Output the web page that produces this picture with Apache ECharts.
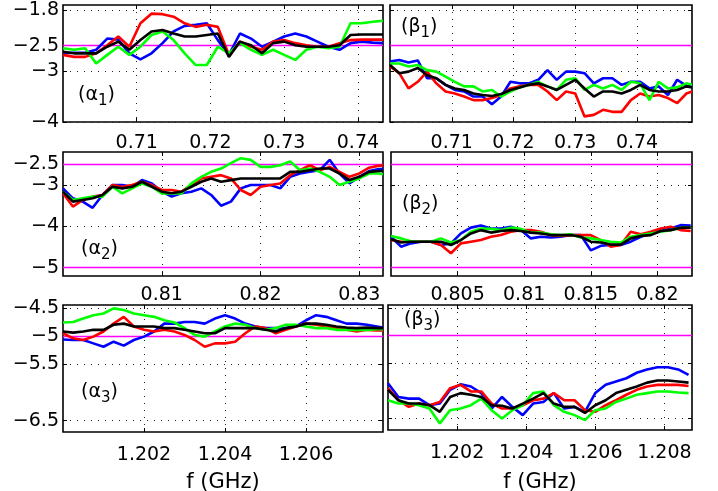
<!DOCTYPE html>
<html><head><meta charset="utf-8">
<script src="https://cdn.jsdelivr.net/npm/echarts@6/dist/echarts.min.js"></script>
<style>html,body{margin:0;padding:0;background:#fff}#c{width:718px;height:491px}</style>
</head><body><div id="c"></div>
<script>
// ---------- data ----------
const xA1 = [0.7000,0.7015,0.7030,0.7045,0.7060,0.7075,0.7090,0.7105,0.7120,0.7135,0.7150,0.7165,0.7180,0.7195,0.7210,0.7225,0.7240,0.7255,0.7270,0.7285,0.7300,0.7315,0.7330,0.7345,0.7360,0.7375,0.7390,0.7405,0.7420,0.7434];
const blueA1  = [-2.65,-2.64,-2.64,-2.58,-2.36,-2.38,-2.65,-2.77,-2.65,-2.45,-2.22,-2.11,-2.09,-2.06,-2.39,-2.68,-2.26,-2.36,-2.52,-2.42,-2.32,-2.26,-2.32,-2.42,-2.52,-2.58,-2.45,-2.42,-2.44,-2.45];
const redA1   = [-2.68,-2.72,-2.72,-2.65,-2.49,-2.32,-2.52,-2.06,-1.87,-1.88,-1.93,-2.06,-2.13,-2.09,-2.13,-2.68,-2.42,-2.52,-2.58,-2.42,-2.39,-2.45,-2.49,-2.52,-2.52,-2.45,-2.39,-2.38,-2.38,-2.38];
const greenA1 = [-2.55,-2.58,-2.55,-2.85,-2.68,-2.52,-2.68,-2.52,-2.29,-2.22,-2.39,-2.65,-2.88,-2.88,-2.52,-2.65,-2.45,-2.58,-2.68,-2.58,-2.68,-2.78,-2.58,-2.52,-2.55,-2.52,-2.06,-2.06,-2.03,-2.01];
const blackA1 = [-2.62,-2.65,-2.65,-2.65,-2.52,-2.42,-2.58,-2.39,-2.22,-2.19,-2.26,-2.32,-2.32,-2.29,-2.26,-2.72,-2.42,-2.49,-2.65,-2.45,-2.42,-2.49,-2.52,-2.52,-2.52,-2.49,-2.29,-2.28,-2.28,-2.28];

const xB1 = [0.7000,0.7015,0.7030,0.7045,0.7060,0.7075,0.7090,0.7105,0.7120,0.7135,0.7150,0.7165,0.7180,0.7195,0.7210,0.7225,0.7240,0.7255,0.7270,0.7285,0.7300,0.7315,0.7330,0.7345,0.7360,0.7375,0.7390,0.7405,0.7420,0.7435,0.7450,0.7465,0.7480,0.7489];
const blueB1  = [-2.81,-2.78,-2.83,-2.79,-3.14,-3.14,-3.27,-3.37,-3.40,-3.50,-3.50,-3.65,-3.50,-3.21,-3.24,-3.24,-3.17,-2.98,-3.17,-3.01,-3.01,-3.04,-3.24,-3.14,-3.14,-3.27,-3.21,-3.21,-3.34,-3.30,-3.47,-3.17,-3.29,-3.30];
const redB1   = [-2.91,-3.04,-3.34,-3.21,-3.01,-3.24,-3.40,-3.44,-3.50,-3.57,-3.57,-3.53,-3.47,-3.34,-3.30,-3.27,-3.27,-3.40,-3.57,-3.40,-3.44,-3.89,-3.86,-3.76,-3.80,-3.80,-3.57,-3.44,-3.50,-3.47,-3.53,-3.63,-3.44,-3.40];
const greenB1 = [-2.85,-2.85,-2.91,-2.88,-2.98,-3.01,-3.11,-3.21,-3.30,-3.30,-3.40,-3.37,-3.50,-3.40,-3.32,-3.27,-3.21,-3.30,-3.37,-3.17,-3.14,-3.37,-3.27,-3.34,-3.27,-3.37,-3.21,-3.24,-3.57,-3.21,-3.34,-3.32,-3.24,-3.27];
const blackB1 = [-2.88,-3.04,-3.01,-2.94,-3.08,-3.14,-3.27,-3.34,-3.37,-3.44,-3.47,-3.49,-3.45,-3.37,-3.32,-3.27,-3.24,-3.30,-3.37,-3.27,-3.17,-3.34,-3.50,-3.40,-3.40,-3.44,-3.37,-3.27,-3.37,-3.40,-3.40,-3.37,-3.30,-3.32];

const xA2 = [0.800,0.801,0.802,0.803,0.804,0.805,0.806,0.807,0.808,0.809,0.810,0.811,0.812,0.813,0.814,0.815,0.816,0.817,0.818,0.819,0.820,0.821,0.822,0.823,0.824,0.825,0.826,0.827,0.828,0.829,0.830,0.831,0.832,0.8324];
const blueA2  = [-3.08,-3.32,-3.40,-3.55,-3.24,-3.00,-3.00,-3.04,-2.88,-2.96,-3.16,-3.28,-3.20,-3.16,-3.08,-3.24,-3.50,-3.40,-3.08,-3.00,-3.00,-3.00,-3.08,-2.80,-2.72,-2.68,-2.64,-2.39,-2.72,-2.96,-2.80,-2.66,-2.61,-2.61];
const redA2   = [-3.20,-3.52,-3.36,-3.28,-3.24,-3.00,-3.04,-3.00,-2.92,-3.00,-3.12,-3.12,-3.16,-3.00,-2.84,-2.80,-2.76,-2.84,-3.12,-3.24,-3.04,-3.00,-2.96,-2.76,-2.64,-2.52,-2.64,-2.56,-2.68,-2.80,-2.72,-2.58,-2.53,-2.53];
const greenA2 = [-3.16,-3.36,-3.32,-3.28,-3.28,-3.04,-3.20,-3.08,-2.96,-3.04,-3.20,-3.20,-3.20,-2.96,-2.80,-2.68,-2.60,-2.47,-2.35,-2.39,-2.56,-2.56,-2.52,-2.43,-2.64,-2.60,-2.68,-2.80,-3.00,-2.92,-2.84,-2.72,-2.72,-2.74];
const blackA2 = [-3.16,-3.40,-3.36,-3.32,-3.24,-3.04,-3.08,-3.04,-2.92,-3.04,-3.16,-3.20,-3.16,-3.04,-2.92,-2.84,-2.92,-2.88,-2.84,-2.84,-2.84,-2.84,-2.84,-2.68,-2.68,-2.64,-2.60,-2.60,-2.72,-2.88,-2.80,-2.68,-2.66,-2.66];

const xB2 = [0.80000,0.80075,0.80150,0.80225,0.80300,0.80375,0.80450,0.80525,0.80600,0.80675,0.80750,0.80825,0.80900,0.80975,0.81050,0.81125,0.81200,0.81275,0.81350,0.81425,0.81500,0.81575,0.81650,0.81725,0.81800,0.81875,0.81950,0.82025,0.82100,0.82175,0.82250];
const blueB2  = [-4.25,-4.49,-4.41,-4.37,-4.37,-4.45,-4.41,-4.17,-4.03,-3.98,-4.05,-4.05,-4.01,-4.09,-4.29,-4.25,-4.27,-4.25,-4.21,-4.21,-4.58,-4.47,-4.45,-4.45,-4.37,-4.25,-4.17,-4.11,-4.05,-3.97,-3.98];
const redB2   = [-4.33,-4.37,-4.37,-4.37,-4.37,-4.45,-4.65,-4.41,-4.37,-4.33,-4.25,-4.21,-4.13,-4.09,-4.09,-4.13,-4.21,-4.23,-4.21,-4.21,-4.21,-4.33,-4.49,-4.45,-4.13,-4.19,-4.13,-4.05,-4.01,-4.09,-4.11];
const greenB2 = [-4.23,-4.29,-4.36,-4.37,-4.37,-4.29,-4.39,-4.33,-4.13,-4.05,-4.06,-4.09,-4.03,-4.06,-4.15,-4.15,-4.19,-4.21,-4.19,-4.27,-4.29,-4.33,-4.37,-4.39,-4.25,-4.21,-4.17,-4.13,-4.09,-4.03,-4.03];
const blackB2 = [-4.31,-4.39,-4.37,-4.37,-4.37,-4.37,-4.45,-4.33,-4.17,-4.09,-4.15,-4.11,-4.09,-4.11,-4.15,-4.17,-4.21,-4.21,-4.21,-4.25,-4.37,-4.39,-4.44,-4.44,-4.29,-4.23,-4.21,-4.11,-4.09,-4.03,-4.03];

const xA3 = [1.20000,1.20025,1.20050,1.20075,1.20100,1.20125,1.20150,1.20175,1.20200,1.20225,1.20250,1.20275,1.20300,1.20325,1.20350,1.20375,1.20400,1.20425,1.20450,1.20475,1.20500,1.20525,1.20550,1.20575,1.20600,1.20625,1.20650,1.20675,1.20700,1.20725,1.20750,1.20775,1.20790];
const blueA3  = [-5.06,-5.07,-5.07,-5.13,-5.19,-5.10,-5.17,-5.07,-5.01,-4.92,-4.78,-4.78,-4.75,-4.75,-4.78,-4.69,-4.63,-4.69,-4.78,-4.83,-4.86,-4.86,-4.86,-4.83,-4.72,-4.63,-4.66,-4.72,-4.78,-4.78,-4.80,-4.83,-4.85];
const redA3   = [-4.95,-5.04,-5.07,-5.01,-4.92,-4.78,-4.66,-4.83,-4.89,-4.92,-4.89,-4.92,-4.98,-5.07,-5.19,-5.13,-5.13,-5.10,-4.95,-4.83,-4.86,-4.95,-4.89,-4.83,-4.78,-4.80,-4.83,-4.86,-4.89,-4.92,-4.89,-4.90,-4.90];
const greenA3 = [-4.76,-4.75,-4.69,-4.63,-4.60,-4.51,-4.54,-4.60,-4.63,-4.66,-4.72,-4.76,-4.86,-4.98,-5.01,-4.92,-4.83,-4.78,-4.80,-4.86,-4.89,-4.86,-4.80,-4.80,-4.83,-4.86,-4.86,-4.89,-4.89,-4.89,-4.89,-4.88,-4.88];
const blackA3 = [-4.92,-4.94,-4.92,-4.89,-4.89,-4.80,-4.78,-4.83,-4.83,-4.83,-4.86,-4.86,-4.89,-4.92,-4.95,-4.95,-4.86,-4.86,-4.86,-4.86,-4.89,-4.92,-4.86,-4.83,-4.78,-4.78,-4.80,-4.83,-4.85,-4.86,-4.85,-4.86,-4.86];

const xB3 = [1.2000,1.2003,1.2006,1.2009,1.2012,1.2015,1.2018,1.2021,1.2024,1.2027,1.2030,1.2033,1.2036,1.2039,1.2042,1.2045,1.2048,1.2051,1.2054,1.2057,1.2060,1.2063,1.2066,1.2069,1.2072,1.2075,1.2078,1.2081,1.2084,1.2087];
const blueB3  = [-5.87,-6.12,-6.15,-6.15,-6.27,-6.24,-5.99,-5.89,-5.93,-6.05,-6.33,-6.12,-6.30,-6.45,-6.24,-6.21,-6.05,-6.33,-6.30,-6.39,-6.05,-5.90,-5.84,-5.78,-5.68,-5.62,-5.58,-5.58,-5.62,-5.72];
const redB3   = [-5.96,-6.18,-6.30,-6.24,-6.27,-6.21,-5.96,-5.90,-6.02,-6.02,-6.24,-6.33,-6.33,-6.27,-6.18,-6.15,-6.05,-6.18,-6.18,-6.36,-6.39,-6.27,-6.18,-6.08,-5.99,-5.93,-5.90,-5.90,-5.90,-5.92];
const greenB3 = [-6.18,-6.24,-6.24,-6.27,-6.33,-6.60,-6.36,-6.33,-6.27,-6.15,-6.36,-6.51,-6.36,-6.27,-6.05,-6.02,-6.27,-6.39,-6.45,-6.54,-6.36,-6.33,-6.21,-6.15,-6.08,-6.05,-6.02,-6.02,-6.04,-6.05];
const blackB3 = [-5.99,-6.18,-6.24,-6.24,-6.27,-6.39,-6.12,-6.05,-6.08,-6.12,-6.27,-6.28,-6.33,-6.24,-6.15,-6.05,-6.24,-6.30,-6.30,-6.41,-6.27,-6.18,-6.05,-5.99,-5.93,-5.86,-5.82,-5.82,-5.84,-5.86];

// tick values
const xTicksA1 = [0.71, 0.72, 0.73, 0.74];
const xTicksB1 = [0.71, 0.72, 0.73, 0.74];
const xTicksA2 = [0.81, 0.82, 0.83];
const xTicksB2 = [0.805, 0.81, 0.815, 0.82];
const xTicksA3 = [1.202, 1.204, 1.206];
const xTicksB3 = [1.202, 1.204, 1.206, 1.208];
const yTicksR1 = [-4, -3, -2.5, -1.8];
const yTicksR2 = [-5, -4, -3, -2.5];
const yTicksR3 = [-6.5, -5.5, -5, -4.5];
// axis ranges
const xRangeA1 = [0.700, 0.7434], xRangeB1 = [0.700, 0.7489];
const xRangeA2 = [0.800, 0.8324], xRangeB2 = [0.800, 0.8226];
const xRangeA3 = [1.200, 1.2079], xRangeB3 = [1.200, 1.2088];
const yRangeR1 = [-4, -1.7], yRangeR2 = [-5.2, -2.2], yRangeR3 = [-6.7, -4.45], yRangeB3 = [-6.72, -4.45];
// magenta reference levels
const refA1 = [-2.5], refB1 = [-2.5], refA2 = [-2.5, -5], refB2 = [-2.5, -5], refA3 = [-5], refB3 = [-5];
// panel tags
const tagLetters = ['α', 'β', 'α', 'β', 'α', 'β'];
const tagSubs = ['1', '1', '2', '2', '3', '3'];
const xAxisTitle = 'f (GHz)';
const seriesNames = ['blue', 'red', 'green', 'black'];

// ---------- layout / style ----------
const F = "'DejaVu Sans', sans-serif";
const lineColors = ['#0000ff', '#ff0000', '#00ff00', '#000000'];
const panels = [
  {grid:{left:63, top:5, width:320, height:117}, xr:xRangeA1, yr:yRangeR1, xt:xTicksA1, yt:yTicksR1, yl:true, x:xA1, s:[blueA1,redA1,greenA1,blackA1], ref:refA1, xm:12, tag:[78,95]},
  {grid:{left:390, top:5, width:302, height:117}, xr:xRangeB1, yr:yRangeR1, xt:xTicksB1, yt:yTicksR1, yl:false, x:xB1, s:[blueB1,redB1,greenB1,blackB1], ref:refB1, xm:12, tag:[401,27]},
  {grid:{left:63, top:152, width:320, height:124}, xr:xRangeA2, yr:yRangeR2, xt:xTicksA2, yt:yTicksR2, yl:true, x:xA2, s:[blueA2,redA2,greenA2,blackA2], ref:refA2, xm:10, tag:[81,249]},
  {grid:{left:391, top:152, width:301, height:124}, xr:xRangeB2, yr:yRangeR2, xt:xTicksB2, yt:yTicksR2, yl:false, x:xB2, s:[blueB2,redB2,greenB2,blackB2], ref:refB2, xm:10, tag:[402,204]},
  {grid:{left:63, top:305, width:320, height:127}, xr:xRangeA3, yr:yRangeR3, xt:xTicksA3, yt:yTicksR3, yl:true, x:xA3, s:[blueA3,redA3,greenA3,blackA3], ref:refA3, xm:14, tag:[81,392], name:true, ng:40},
  {grid:{left:388, top:305, width:304, height:125}, xr:xRangeB3, yr:yRangeB3, xt:xTicksB3, yt:yTicksR3, yl:false, x:xB3, s:[blueB3,redB3,greenB3,blackB3], ref:refB3, xm:14, tag:[404,320], name:true, ng:42}
];

const fmt = v => (v < 0 ? '\u2212' : '') + String(Math.abs(v));
const option = {animation:false, backgroundColor:'#fff', grid:[], xAxis:[], yAxis:[], series:[], graphic:[]};
const dotted = {show:true, lineStyle:{color:'#222', width:1, type:[1,6]}};

panels.forEach((p, i) => {
  option.grid.push(Object.assign({show:true, borderColor:'#000', borderWidth:1.6, backgroundColor:'#fff', containLabel:false, outerBoundsMode:'none'}, p.grid));
  const tick = vals => ({show:true, inside:true, length:4, customValues:vals, lineStyle:{color:'#000', width:1}});
  option.xAxis.push({type:'value', gridIndex:i, position:'bottom', min:p.xr[0], max:p.xr[1],
    axisLine:{show:false}, axisTick:tick(p.xt),
    axisLabel:{show:true, customValues:p.xt, margin:p.xm, fontSize:19, fontFamily:F, color:'#000', formatter:v => String(v), hideOverlap:false},
    splitLine:dotted,
    name: p.name ? xAxisTitle : '', nameLocation:'middle', nameGap:p.ng || 30, nameMoveOverlap:false,
    nameTextStyle:{fontSize:21, fontFamily:F, color:'#000'}});
  option.xAxis.push({type:'value', gridIndex:i, position:'top', min:p.xr[0], max:p.xr[1],
    axisLine:{show:false}, axisTick:tick(p.xt), axisLabel:{show:false}, splitLine:{show:false}});
  option.yAxis.push({type:'value', gridIndex:i, position:'left', min:p.yr[0], max:p.yr[1],
    axisLine:{show:false}, axisTick:tick(p.yt),
    axisLabel:{show:p.yl, customValues:p.yt, margin:4, fontSize:19, fontFamily:F, color:'#000', formatter:fmt, hideOverlap:false},
    splitLine:dotted});
  option.yAxis.push({type:'value', gridIndex:i, position:'right', min:p.yr[0], max:p.yr[1],
    axisLine:{show:false}, axisTick:tick(p.yt), axisLabel:{show:false}, splitLine:{show:false}});
  p.s.forEach((vals, k) => {
    const ser = {type:'line', name:seriesNames[k], xAxisIndex:2*i, yAxisIndex:2*i, showSymbol:false, symbol:'none',
      data: p.x.map((xv, j) => [xv, vals[j]]),
      lineStyle:{color:lineColors[k], width:2.6}, itemStyle:{color:lineColors[k]}, clip:true, z:3+k};
    if (k === 0) {
      ser.markLine = {silent:true, symbol:'none', z:2, animation:false, label:{show:false},
        lineStyle:{color:'#ff00ff', width:1.3, type:'solid'}, emphasis:{disabled:true},
        data: p.ref.map(v => ({yAxis:v}))};
    }
    option.series.push(ser);
  });
  option.graphic.push({type:'text', x:p.tag[0], y:p.tag[1], z:100,
    style:{text:'{n|(' + tagLetters[i] + '}{s|' + tagSubs[i] + '}{n|)}', verticalAlign:'middle', align:'left', fill:'#000',
      rich:{n:{fontSize:19, fontFamily:F, fill:'#000', verticalAlign:'middle'},
            s:{fontSize:15, fontFamily:F, fill:'#000', padding:[12,0,0,0]}}}});
});

const chart = echarts.init(document.getElementById('c'), null, {renderer:'canvas'});
chart.setOption(option);
</script>
</body></html>
